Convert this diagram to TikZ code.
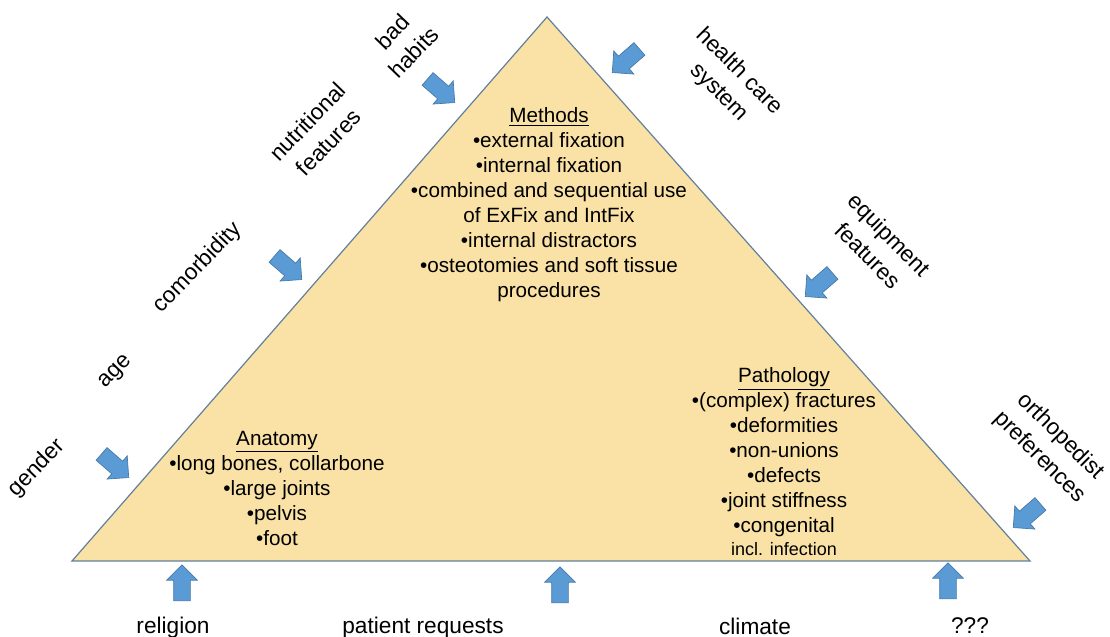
\documentclass[tikz,border=0pt]{standalone}
\usepackage{fontspec}
\setmainfont{Liberation Sans}
\usetikzlibrary{shapes.arrows}
\usepackage{xcolor}
\definecolor{tanfill}{RGB}{250,226,166}
\definecolor{edgegray}{RGB}{98,128,155}
\definecolor{pushblue}{RGB}{91,155,213}
\definecolor{pushedge}{RGB}{70,120,165}

\begin{document}
\begin{tikzpicture}[x=0.75pt,y=-0.75pt]
\tikzstyle{content} = [align=center, inner sep=0pt,
font=\fontsize{15.5}{18.75}\selectfont]
\tikzstyle{factor} = [align=center, inner sep=0pt,
font=\fontsize{17}{22}\selectfont]
\tikzstyle{push} = [single arrow, draw=pushedge, fill=pushblue, line width=0.5pt,
inner xsep=0pt, inner ysep=6pt, minimum height=27pt, minimum width=22.5pt,
single arrow head extend=5.25pt];
\useasboundingbox (0,0) rectangle (1110,636);
% triangle
\coordinate (left) at (72,561);
\coordinate (top) at (547,17);
\coordinate (right) at (1030,561);
\draw [draw=edgegray, fill=tanfill, line width=0.9pt] (left) -- (top) -- (right) -- cycle;
% corners
\node [content] (methods) at (549,205) {\underline{Methods}\\
	•external fixation\\ •internal fixation\\
	•combined and sequential use\\ of ExFix and IntFix\\
	•internal distractors\\ •osteotomies and soft tissue\\ procedures};
\node [content] (anatomy) at (277,488) {\underline{Anatomy}\\
	•long bones, collarbone\\ •large joints\\ •pelvis\\ •foot};
\node [content] (pathology) at (784,462) {\underline{Pathology}\\
	•(complex) fractures\\ •deformities\\ •non-unions\\ •defects\\
	•joint stiffness\\ •congenital\\[-1.5pt]
	{\fontsize{13.5}{16}\selectfont incl. infection}};
% left side
\node [factor, rotate=46] (badhabits) at (403,42) {bad\\habits};
\node [factor, rotate=46] (nutrition) at (318,132) {nutritional\\features};
\node [factor, rotate=46] (comorbidity) at (198,268) {comorbidity};
\node [factor, rotate=46] (age) at (116,372) {age};
\node [factor, rotate=46] (gender) at (37,468) {gender};
\node [push, rotate=-41] (pbad) at (438,88) {};
\node [push, rotate=-41] (pcomorbidity) at (285,265) {};
\node [push, rotate=-41] (pgender) at (112,463) {};
% right side
\node [factor, rotate=-45] (healthcare) at (729,82) {health care\\system};
\node [factor, rotate=-45] (equipment) at (879,245) {equipment\\features};
\node [factor, rotate=-45] (orthopedist) at (1050,447) {orthopedist\\preferences};
\node [push, rotate=-139] (phealth) at (629,58) {};
\node [push, rotate=-139] (pequipment) at (822,282) {};
\node [push, rotate=-139] (porthopedist) at (1030,513) {};
% base
\node [factor, anchor=base] (religion) at (173,633) {religion};
\node [factor, anchor=base] (patient) at (423,633) {patient requests};
\node [factor, anchor=base] (climate) at (755,634) {climate};
\node [factor, anchor=base] (unknown) at (970,633) {???};
\node [push, rotate=90] (preligion) at (182,587) {};
\node [push, rotate=90] (ppatient) at (560,589) {};
\node [push, rotate=90] (punknown) at (948,585) {};
\end{tikzpicture}
\end{document}
